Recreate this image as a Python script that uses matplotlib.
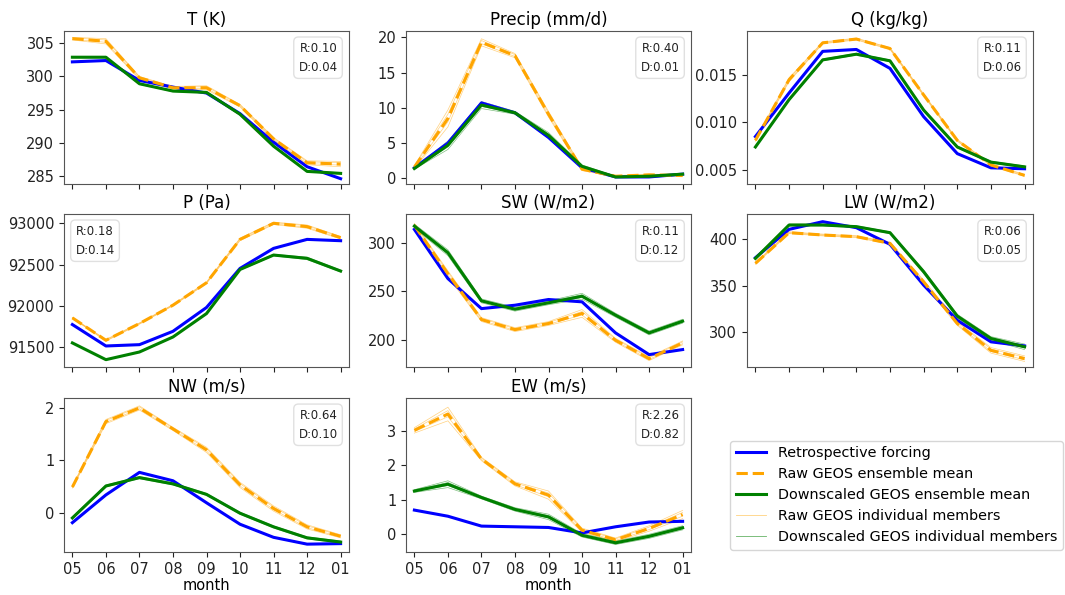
import numpy as np
import matplotlib
matplotlib.use('Agg')
import matplotlib.pyplot as plt
from matplotlib.lines import Line2D

months = ['05', '06', '07', '08', '09', '10', '11', '12', '01']

titles = ['T (K)', 'Precip (mm/d)', 'Q (kg/kg)', 'P (Pa)', 'SW (W/m2)',
          'LW (W/m2)', 'NW (m/s)', 'EW (m/s)']
scores = [('0.10', '0.04'), ('0.40', '0.01'), ('0.11', '0.06'), ('0.18', '0.14'),
          ('0.11', '0.12'), ('0.06', '0.05'), ('0.64', '0.10'), ('2.26', '0.82')]

# retrospective forcing
retro_T = [302.2, 302.4, 299.4, 298.4, 297.5, 294.4, 290.1, 286.4, 284.6]
retro_Pr = [1.5, 5.0, 10.7, 9.3, 5.8, 1.5, 0.2, 0.2, 0.6]
retro_Q = [0.0085, 0.0131, 0.0175, 0.0177, 0.0157, 0.0106, 0.0067, 0.0052, 0.0051]
retro_P = [91772, 91512, 91528, 91690, 91979, 92453, 92696, 92805, 92789]
retro_SW = [313.8, 263.0, 232.0, 235.5, 241.4, 239.0, 206.9, 184.5, 189.7]
retro_LW = [380.1, 410.8, 419.1, 412.6, 394.6, 350.5, 312.5, 289.2, 284.8]
retro_NW = [-0.19, 0.34, 0.77, 0.61, 0.19, -0.22, -0.47, -0.60, -0.59]
retro_EW = [0.69, 0.51, 0.22, 0.20, 0.18, 0.02, 0.20, 0.34, 0.36]

# raw GEOS ensemble mean
raw_T = [305.7, 305.3, 299.8, 298.3, 298.3, 295.6, 290.6, 287.0, 286.8]
raw_Pr = [1.6, 8.5, 19.3, 17.4, 9.1, 1.3, 0.3, 0.5, 0.4]
raw_Q = [0.0081, 0.0145, 0.0184, 0.0188, 0.0178, 0.0129, 0.0081, 0.0055, 0.0044]
raw_P = [91853, 91581, 91784, 92007, 92279, 92805, 93000, 92960, 92826]
raw_SW = [318.0, 268.0, 220.7, 210.3, 216.6, 227.0, 199.3, 180.3, 196.6]
raw_LW = [374.0, 407.2, 404.7, 402.9, 395.7, 354.0, 309.0, 280.0, 271.0]
raw_NW = [0.49, 1.74, 2.00, 1.60, 1.20, 0.53, 0.08, -0.27, -0.45]
raw_EW = [3.03, 3.51, 2.19, 1.46, 1.13, 0.10, -0.18, 0.15, 0.56]

# downscaled GEOS ensemble mean
down_T = [302.9, 302.9, 298.9, 297.8, 297.6, 294.3, 289.5, 285.7, 285.4]
down_Pr = [1.4, 4.7, 10.4, 9.3, 6.1, 1.7, 0.2, 0.3, 0.6]
down_Q = [0.0074, 0.0124, 0.0166, 0.0172, 0.0165, 0.0113, 0.0074, 0.0058, 0.0053]
down_P = [91549, 91346, 91439, 91621, 91905, 92440, 92615, 92575, 92421]
down_SW = [317.2, 289.7, 240.0, 231.4, 238.0, 244.8, 225.2, 206.9, 219.0]
down_LW = [379.4, 415.5, 415.5, 413.7, 407.2, 365.0, 317.0, 292.8, 283.8]
down_NW = [-0.10, 0.51, 0.67, 0.55, 0.35, -0.01, -0.27, -0.48, -0.56]
down_EW = [1.25, 1.45, 1.06, 0.71, 0.49, -0.05, -0.27, -0.08, 0.17]

# member spread (half-width)
raw_spr_T = [0.2, 0.4, 0.2, 0.2, 0.3, 0.2, 0.2, 0.3, 0.4]
raw_spr_Pr = [0.2, 1.2, 0.5, 0.3, 0.4, 0.2, 0.1, 0.1, 0.1]
raw_spr_Q = [0.0001, 0.0002, 0.0001, 0.0001, 0.0001, 0.0001, 0.0001, 0.0001, 0.0001]
raw_spr_P = [5, 10, 8, 8, 10, 15, 15, 20, 15]
raw_spr_SW = [2, 3, 2, 2, 2, 4, 2, 2, 2]
raw_spr_LW = [1, 1, 1, 1, 1, 2, 2, 3, 3]
raw_spr_NW = [0.02, 0.04, 0.04, 0.03, 0.05, 0.05, 0.05, 0.04, 0.03]
raw_spr_EW = [0.08, 0.2, 0.05, 0.06, 0.12, 0.06, 0.05, 0.08, 0.12]

down_spr_T = [0.1, 0.1, 0.1, 0.1, 0.1, 0.1, 0.1, 0.1, 0.1]
down_spr_Pr = [0.1, 0.6, 0.5, 0.2, 0.4, 0.2, 0.1, 0.1, 0.1]
down_spr_Q = [0.0001, 0.0001, 0.0001, 0.0001, 0.0001, 0.0001, 0.0001, 0.0001, 0.0001]
down_spr_P = [4, 4, 4, 5, 6, 8, 10, 15, 12]
down_spr_SW = [2, 3, 2, 2, 2, 3, 2, 2, 2]
down_spr_LW = [1, 1, 1, 1, 1, 2, 2, 2, 3]
down_spr_NW = [0.02, 0.02, 0.02, 0.02, 0.02, 0.02, 0.02, 0.02, 0.02]
down_spr_EW = [0.04, 0.1, 0.04, 0.05, 0.08, 0.05, 0.05, 0.06, 0.06]

retro = [retro_T, retro_Pr, retro_Q, retro_P, retro_SW, retro_LW, retro_NW, retro_EW]
raw = [raw_T, raw_Pr, raw_Q, raw_P, raw_SW, raw_LW, raw_NW, raw_EW]
down = [down_T, down_Pr, down_Q, down_P, down_SW, down_LW, down_NW, down_EW]
raw_spr = [raw_spr_T, raw_spr_Pr, raw_spr_Q, raw_spr_P, raw_spr_SW, raw_spr_LW,
           raw_spr_NW, raw_spr_EW]
down_spr = [down_spr_T, down_spr_Pr, down_spr_Q, down_spr_P, down_spr_SW,
            down_spr_LW, down_spr_NW, down_spr_EW]

ylims = [(283.8, 306.85), (-0.8, 20.9), (0.00349, 0.01965), (91257, 93113),
         (171.7, 329.7), (262, 427.4), (-0.75, 2.19), (-0.54, 3.98)]
yticks = [[285, 290, 295, 300, 305], [0, 5, 10, 15, 20], [0.005, 0.010, 0.015],
          [91500, 92000, 92500, 93000], [200, 250, 300], [300, 350, 400],
          [0, 1, 2], [0, 1, 2, 3]]
yfmt = ['{:.0f}', '{:.0f}', '{:.3f}', '{:.0f}', '{:.0f}', '{:.0f}', '{:.0f}', '{:.0f}']

fig = plt.figure(figsize=(10.65, 5.95), dpi=100)
W, H = 1065, 595
lefts = [64, 406, 747]
widths = [285, 285, 286]
tops = [31, 214, 398]
heights = [153, 153, 154]

x = np.arange(len(months))
for i in range(8):
    r, c = divmod(i, 3)
    ax = fig.add_axes([lefts[c] / W, 1 - (tops[r] + heights[r]) / H,
                       widths[c] / W, heights[r] / H])
    rv = np.array(raw[i])
    dv = np.array(down[i])
    rs = np.array(raw_spr[i])
    ds = np.array(down_spr[i])
    # individual members
    for sgn in (-1, -0.4, 0.5, 1):
        ax.plot(x, rv + sgn * rs, color='orange', lw=0.5, alpha=0.5)
        ax.plot(x, dv + sgn * ds, color='green', lw=0.5, alpha=0.5)
    ax.plot(x, retro[i], color='blue', lw=2.2)
    ax.plot(x, rv, color='orange', lw=2.2, ls='--')
    ax.plot(x, dv, color='green', lw=2.2)
    ax.set_ylim(*ylims[i])
    ax.set_xlim(-0.25, 8.25)
    ax.set_yticks(yticks[i])
    ax.set_yticklabels([yfmt[i].format(v) for v in yticks[i]])
    ax.set_xticks(x)
    if r == 2:
        ax.set_xticklabels(months)
        ax.set_xlabel('month', fontsize=10.5, labelpad=1)
    else:
        ax.set_xticklabels([])
    ax.tick_params(labelsize=10.5, colors='#222222')
    for s in ax.spines.values():
        s.set_color('#555555')
    ax.set_title(titles[i], fontsize=12, pad=4)
    rtxt, dtxt = scores[i]
    if i == 3:
        tx, ha = 0.04, 'left'
    else:
        tx, ha = 0.96, 'right'
    ax.text(tx, 0.93, 'R:' + rtxt + '\nD:' + dtxt, transform=ax.transAxes,
            ha=ha, va='top', fontsize=8.5, linespacing=1.6, color='#222222',
            bbox=dict(boxstyle='round,pad=0.4', facecolor='white',
                      edgecolor='#dddddd', alpha=0.9))

handles = [
    Line2D([], [], color='blue', lw=2.2),
    Line2D([], [], color='orange', lw=2.2, ls='--'),
    Line2D([], [], color='green', lw=2.2),
    Line2D([], [], color='orange', lw=0.6, alpha=0.5),
    Line2D([], [], color='green', lw=0.6, alpha=0.6),
]
labels = ['Retrospective forcing', 'Raw GEOS ensemble mean',
          'Downscaled GEOS ensemble mean', 'Raw GEOS individual members',
          'Downscaled GEOS individual members']
fig.legend(handles, labels, loc='lower right', bbox_to_anchor=(1063 / W, 1 - 550 / H),
           borderaxespad=0, fontsize=10.4, frameon=True, edgecolor='#cccccc',
           handlelength=2.1, borderpad=0.4, labelspacing=0.48, handletextpad=0.8)

plt.savefig('out.png', dpi=100)
